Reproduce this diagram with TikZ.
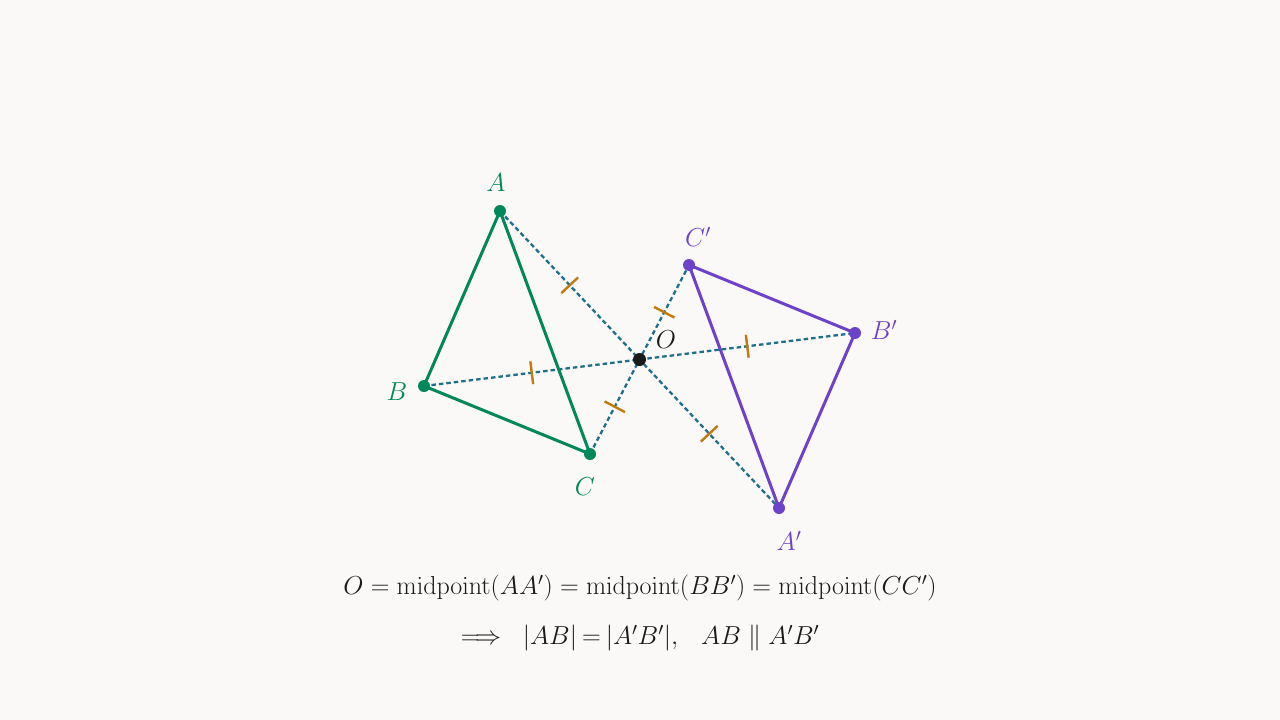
\documentclass[tikz,border=0pt]{standalone}
\usepackage{fix-cm}
\usetikzlibrary{calc}
\definecolor{bg}{HTML}{FAF9F7}
\definecolor{grn}{HTML}{00875A}
\definecolor{prp}{HTML}{6E42C8}
\definecolor{teal}{HTML}{1F6F8B}
\definecolor{tick}{HTML}{C07A0E}
\definecolor{ink}{HTML}{1A1A1A}
\tikzset{
  side/.style={line width=3pt, line join=round},
  guide/.style={teal, line width=2.3pt, dash pattern=on 4.5pt off 3pt},
  tickmark/.style={tick, line width=2.4pt},
  lbl/.style={font=\fontsize{26}{30}\selectfont},
  dotg/.style={circle, fill=grn, inner sep=0pt, minimum size=12pt},
  dotp/.style={circle, fill=prp, inner sep=0pt, minimum size=12pt},
  doto/.style={circle, fill=ink, inner sep=0pt, minimum size=13pt},
}
\begin{document}
\begin{tikzpicture}[x=1pt,y=-1pt]
\fill[bg] (0,0) rectangle (1280,720);
\useasboundingbox (0,0) rectangle (1280,720);
\coordinate (A) at (500,211);
\coordinate (B) at (424,386);
\coordinate (C) at (590,454);
\coordinate (O) at (639.5,359.5);
\coordinate (A2) at (779,508);
\coordinate (B2) at (855,333);
\coordinate (C2) at (689,265);
% guides
\draw[guide] (A) -- (A2);
\draw[guide] (B) -- (B2);
\draw[guide] (C) -- (C2);
% ticks
\foreach \P/\Q in {A/O, O/A2, B/O, O/B2, C/O, O/C2}{
  \coordinate (M) at ($(\P)!0.5!(\Q)$);
  \draw[tickmark] ($(M)!11.5pt!90:(\Q)$) -- ($(M)!11.5pt!-90:(\Q)$);
}
% triangles
\draw[side, grn] (A) -- (B) -- (C) -- cycle;
\draw[side, prp] (A2) -- (B2) -- (C2) -- cycle;
% dots
\node[dotg] (dA) at (A) {};
\node[dotg] (dB) at (B) {};
\node[dotg] (dC) at (C) {};
\node[dotp] (dA2) at (A2) {};
\node[dotp] (dB2) at (B2) {};
\node[dotp] (dC2) at (C2) {};
\node[doto] (dO) at (O) {};
% labels
\node[lbl, text=grn] (lA) at (496,183) {$A$};
\node[lbl, text=grn] (lB) at (397,392) {$B$};
\node[lbl, text=grn] (lC) at (585,487) {$C$};
\node[lbl, text=ink] (lO) at (666,340) {$O$};
\node[lbl, text=prp] (lC2) at (698,237) {$C'$};
\node[lbl, text=prp] (lB2) at (884,330) {$B'$};
\node[lbl, text=prp] (lA2) at (789,541) {$A'$};
% formulas
\node[lbl, text=ink] (f1) at (640,588) {$O=\mathrm{midpoint}(AA')=\mathrm{midpoint}(BB')=\mathrm{midpoint}(CC')$};
\node[lbl, text=ink] (f2) at (640,638) {$\Longrightarrow\;\; |AB|\mkern-1.5mu=\mkern-1.5mu|A'B'|,\;\;\, AB\parallel A'B'$};
\end{tikzpicture}
\end{document}
